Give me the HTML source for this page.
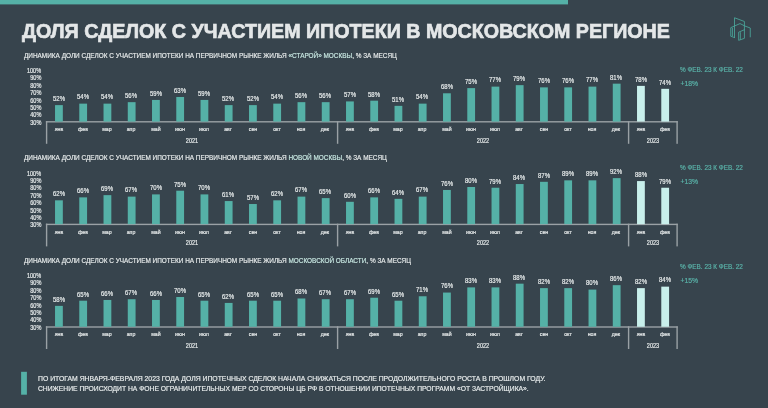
<!DOCTYPE html>
<html><head><meta charset="utf-8">
<style>
html,body{margin:0;padding:0;}
body{width:768px;height:408px;overflow:hidden;background:#37444d;position:relative;font-family:"Liberation Sans",sans-serif;}
.a{position:absolute;white-space:nowrap;line-height:1;-webkit-text-stroke:0.18px currentColor;}
.bar{position:absolute;}
.ln{position:absolute;background:#9aa1a5;}
.c{transform:translateX(-50%);}
</style></head><body><div id="w" style="position:absolute;left:0;top:0;width:768px;height:408px;will-change:transform;">

<div class="a" id="title" style="left:21.7px;top:21.2px;font-size:20.9px;font-weight:bold;color:#e4e7e8;transform-origin:0 0;transform:scaleX(0.941);-webkit-text-stroke:0.7px #e4e7e8;">ДОЛЯ СДЕЛОК С УЧАСТИЕМ ИПОТЕКИ В МОСКОВСКОМ РЕГИОНЕ</div>
<svg style="position:absolute;left:724px;top:12px" width="32" height="34" viewBox="0 0 384 408">
<g fill="none" stroke="#4caa9e" stroke-width="10" stroke-linejoin="round" stroke-linecap="round">
<path d="M126 307 V69 L245 114 V316 L176 340 V242 L245 213"/>
<path d="M126 307 L81 291 V188 L126 168 L192 139 L250 168 L315 192 V299"/>
<path d="M101 287 V194"/>
<path d="M196 328 V247"/>
</g></svg>
<div class="a" id="sub0" style="left:24.20px;top:51.80px;font-size:7.80px;color:#e9eded;transform-origin:0 0;transform:scaleX(0.823);">ДИНАМИКА ДОЛИ СДЕЛОК С УЧАСТИЕМ ИПОТЕКИ НА ПЕРВИЧНОМ РЫНКЕ ЖИЛЬЯ <span style="color:#c9e9e3">«СТАРОЙ» МОСКВЫ</span>, % ЗА МЕСЯЦ</div>
<div class="a" style="right:726.90px;top:119.65px;font-size:6.70px;color:#e9eded;transform-origin:100% 0;transform:scaleX(0.83);">30%</div>
<div class="a" style="right:726.90px;top:112.27px;font-size:6.70px;color:#e9eded;transform-origin:100% 0;transform:scaleX(0.83);">40%</div>
<div class="a" style="right:726.90px;top:104.89px;font-size:6.70px;color:#e9eded;transform-origin:100% 0;transform:scaleX(0.83);">50%</div>
<div class="a" style="right:726.90px;top:97.51px;font-size:6.70px;color:#e9eded;transform-origin:100% 0;transform:scaleX(0.83);">60%</div>
<div class="a" style="right:726.90px;top:90.13px;font-size:6.70px;color:#e9eded;transform-origin:100% 0;transform:scaleX(0.83);">70%</div>
<div class="a" style="right:726.90px;top:82.75px;font-size:6.70px;color:#e9eded;transform-origin:100% 0;transform:scaleX(0.83);">80%</div>
<div class="a" style="right:726.90px;top:75.37px;font-size:6.70px;color:#e9eded;transform-origin:100% 0;transform:scaleX(0.83);">90%</div>
<div class="a" style="right:726.90px;top:67.99px;font-size:6.70px;color:#e9eded;transform-origin:100% 0;transform:scaleX(0.83);">100%</div>
<div class="a c" style="left:58.73px;top:95.96px;font-size:6.80px;color:#e9eded;transform:translateX(-50%) scaleX(0.88);">52%</div>
<div class="a c" style="left:58.73px;top:125.82px;font-size:6.00px;color:#e9eded;transform:translateX(-50%) scaleX(0.88);">янв</div>
<div class="a c" style="left:82.97px;top:94.48px;font-size:6.80px;color:#e9eded;transform:translateX(-50%) scaleX(0.88);">54%</div>
<div class="a c" style="left:82.97px;top:125.82px;font-size:6.00px;color:#e9eded;transform:translateX(-50%) scaleX(0.88);">фев</div>
<div class="a c" style="left:107.22px;top:94.48px;font-size:6.80px;color:#e9eded;transform:translateX(-50%) scaleX(0.88);">54%</div>
<div class="a c" style="left:107.22px;top:125.82px;font-size:6.00px;color:#e9eded;transform:translateX(-50%) scaleX(0.88);">мар</div>
<div class="a c" style="left:131.47px;top:93.00px;font-size:6.80px;color:#e9eded;transform:translateX(-50%) scaleX(0.88);">56%</div>
<div class="a c" style="left:131.47px;top:125.82px;font-size:6.00px;color:#e9eded;transform:translateX(-50%) scaleX(0.88);">апр</div>
<div class="a c" style="left:155.72px;top:90.78px;font-size:6.80px;color:#e9eded;transform:translateX(-50%) scaleX(0.88);">59%</div>
<div class="a c" style="left:155.72px;top:125.82px;font-size:6.00px;color:#e9eded;transform:translateX(-50%) scaleX(0.88);">май</div>
<div class="a c" style="left:179.97px;top:87.82px;font-size:6.80px;color:#e9eded;transform:translateX(-50%) scaleX(0.88);">63%</div>
<div class="a c" style="left:179.97px;top:125.82px;font-size:6.00px;color:#e9eded;transform:translateX(-50%) scaleX(0.88);">июн</div>
<div class="a c" style="left:204.22px;top:90.78px;font-size:6.80px;color:#e9eded;transform:translateX(-50%) scaleX(0.88);">59%</div>
<div class="a c" style="left:204.22px;top:125.82px;font-size:6.00px;color:#e9eded;transform:translateX(-50%) scaleX(0.88);">июл</div>
<div class="a c" style="left:228.47px;top:95.96px;font-size:6.80px;color:#e9eded;transform:translateX(-50%) scaleX(0.88);">52%</div>
<div class="a c" style="left:228.47px;top:125.82px;font-size:6.00px;color:#e9eded;transform:translateX(-50%) scaleX(0.88);">авг</div>
<div class="a c" style="left:252.72px;top:95.96px;font-size:6.80px;color:#e9eded;transform:translateX(-50%) scaleX(0.88);">52%</div>
<div class="a c" style="left:252.72px;top:125.82px;font-size:6.00px;color:#e9eded;transform:translateX(-50%) scaleX(0.88);">сен</div>
<div class="a c" style="left:276.98px;top:94.48px;font-size:6.80px;color:#e9eded;transform:translateX(-50%) scaleX(0.88);">54%</div>
<div class="a c" style="left:276.98px;top:125.82px;font-size:6.00px;color:#e9eded;transform:translateX(-50%) scaleX(0.88);">окт</div>
<div class="a c" style="left:301.23px;top:93.00px;font-size:6.80px;color:#e9eded;transform:translateX(-50%) scaleX(0.88);">56%</div>
<div class="a c" style="left:301.23px;top:125.82px;font-size:6.00px;color:#e9eded;transform:translateX(-50%) scaleX(0.88);">ноя</div>
<div class="a c" style="left:325.48px;top:93.00px;font-size:6.80px;color:#e9eded;transform:translateX(-50%) scaleX(0.88);">56%</div>
<div class="a c" style="left:325.48px;top:125.82px;font-size:6.00px;color:#e9eded;transform:translateX(-50%) scaleX(0.88);">дек</div>
<div class="a c" style="left:349.73px;top:92.26px;font-size:6.80px;color:#e9eded;transform:translateX(-50%) scaleX(0.88);">57%</div>
<div class="a c" style="left:349.73px;top:125.82px;font-size:6.00px;color:#e9eded;transform:translateX(-50%) scaleX(0.88);">янв</div>
<div class="a c" style="left:373.98px;top:91.52px;font-size:6.80px;color:#e9eded;transform:translateX(-50%) scaleX(0.88);">58%</div>
<div class="a c" style="left:373.98px;top:125.82px;font-size:6.00px;color:#e9eded;transform:translateX(-50%) scaleX(0.88);">фев</div>
<div class="a c" style="left:398.23px;top:96.70px;font-size:6.80px;color:#e9eded;transform:translateX(-50%) scaleX(0.88);">51%</div>
<div class="a c" style="left:398.23px;top:125.82px;font-size:6.00px;color:#e9eded;transform:translateX(-50%) scaleX(0.88);">мар</div>
<div class="a c" style="left:422.48px;top:94.48px;font-size:6.80px;color:#e9eded;transform:translateX(-50%) scaleX(0.88);">54%</div>
<div class="a c" style="left:422.48px;top:125.82px;font-size:6.00px;color:#e9eded;transform:translateX(-50%) scaleX(0.88);">апр</div>
<div class="a c" style="left:446.73px;top:84.12px;font-size:6.80px;color:#e9eded;transform:translateX(-50%) scaleX(0.88);">68%</div>
<div class="a c" style="left:446.73px;top:125.82px;font-size:6.00px;color:#e9eded;transform:translateX(-50%) scaleX(0.88);">май</div>
<div class="a c" style="left:470.98px;top:78.94px;font-size:6.80px;color:#e9eded;transform:translateX(-50%) scaleX(0.88);">75%</div>
<div class="a c" style="left:470.98px;top:125.82px;font-size:6.00px;color:#e9eded;transform:translateX(-50%) scaleX(0.88);">июн</div>
<div class="a c" style="left:495.23px;top:77.46px;font-size:6.80px;color:#e9eded;transform:translateX(-50%) scaleX(0.88);">77%</div>
<div class="a c" style="left:495.23px;top:125.82px;font-size:6.00px;color:#e9eded;transform:translateX(-50%) scaleX(0.88);">июл</div>
<div class="a c" style="left:519.48px;top:75.98px;font-size:6.80px;color:#e9eded;transform:translateX(-50%) scaleX(0.88);">79%</div>
<div class="a c" style="left:519.48px;top:125.82px;font-size:6.00px;color:#e9eded;transform:translateX(-50%) scaleX(0.88);">авг</div>
<div class="a c" style="left:543.73px;top:78.20px;font-size:6.80px;color:#e9eded;transform:translateX(-50%) scaleX(0.88);">76%</div>
<div class="a c" style="left:543.73px;top:125.82px;font-size:6.00px;color:#e9eded;transform:translateX(-50%) scaleX(0.88);">сен</div>
<div class="a c" style="left:567.98px;top:78.20px;font-size:6.80px;color:#e9eded;transform:translateX(-50%) scaleX(0.88);">76%</div>
<div class="a c" style="left:567.98px;top:125.82px;font-size:6.00px;color:#e9eded;transform:translateX(-50%) scaleX(0.88);">окт</div>
<div class="a c" style="left:592.23px;top:77.46px;font-size:6.80px;color:#e9eded;transform:translateX(-50%) scaleX(0.88);">77%</div>
<div class="a c" style="left:592.23px;top:125.82px;font-size:6.00px;color:#e9eded;transform:translateX(-50%) scaleX(0.88);">ноя</div>
<div class="a c" style="left:616.48px;top:74.50px;font-size:6.80px;color:#e9eded;transform:translateX(-50%) scaleX(0.88);">81%</div>
<div class="a c" style="left:616.48px;top:125.82px;font-size:6.00px;color:#e9eded;transform:translateX(-50%) scaleX(0.88);">дек</div>
<div class="a c" style="left:640.73px;top:76.72px;font-size:6.80px;color:#e9eded;transform:translateX(-50%) scaleX(0.88);">78%</div>
<div class="a c" style="left:640.73px;top:125.82px;font-size:6.00px;color:#e9eded;transform:translateX(-50%) scaleX(0.88);">янв</div>
<div class="a c" style="left:664.98px;top:79.68px;font-size:6.80px;color:#e9eded;transform:translateX(-50%) scaleX(0.88);">74%</div>
<div class="a c" style="left:664.98px;top:125.82px;font-size:6.00px;color:#e9eded;transform:translateX(-50%) scaleX(0.88);">фев</div>
<div class="a c" style="left:192.10px;top:138.04px;font-size:6.80px;color:#e9eded;transform:translateX(-50%) scaleX(0.81);">2021</div>
<div class="a c" style="left:483.10px;top:138.04px;font-size:6.80px;color:#e9eded;transform:translateX(-50%) scaleX(0.81);">2022</div>
<div class="a c" style="left:652.85px;top:138.04px;font-size:6.80px;color:#e9eded;transform:translateX(-50%) scaleX(0.81);">2023</div>
<div class="a" id="r0" style="left:680.20px;top:66.61px;font-size:6.60px;color:#5ab3a9;transform-origin:0 0;transform:scaleX(0.97);">% ФЕВ. 23 К ФЕВ. 22</div>
<div class="a" style="left:680.50px;top:80.64px;font-size:6.80px;color:#5ab3a9;">+18%</div>
<div class="a" id="sub1" style="left:24.20px;top:154.40px;font-size:7.80px;color:#e9eded;transform-origin:0 0;transform:scaleX(0.823);">ДИНАМИКА ДОЛИ СДЕЛОК С УЧАСТИЕМ ИПОТЕКИ НА ПЕРВИЧНОМ РЫНКЕ ЖИЛЬЯ <span style="color:#c9e9e3">НОВОЙ МОСКВЫ</span>, % ЗА МЕСЯЦ</div>
<div class="a" style="right:726.90px;top:222.35px;font-size:6.70px;color:#e9eded;transform-origin:100% 0;transform:scaleX(0.83);">30%</div>
<div class="a" style="right:726.90px;top:214.97px;font-size:6.70px;color:#e9eded;transform-origin:100% 0;transform:scaleX(0.83);">40%</div>
<div class="a" style="right:726.90px;top:207.59px;font-size:6.70px;color:#e9eded;transform-origin:100% 0;transform:scaleX(0.83);">50%</div>
<div class="a" style="right:726.90px;top:200.21px;font-size:6.70px;color:#e9eded;transform-origin:100% 0;transform:scaleX(0.83);">60%</div>
<div class="a" style="right:726.90px;top:192.83px;font-size:6.70px;color:#e9eded;transform-origin:100% 0;transform:scaleX(0.83);">70%</div>
<div class="a" style="right:726.90px;top:185.45px;font-size:6.70px;color:#e9eded;transform-origin:100% 0;transform:scaleX(0.83);">80%</div>
<div class="a" style="right:726.90px;top:178.07px;font-size:6.70px;color:#e9eded;transform-origin:100% 0;transform:scaleX(0.83);">90%</div>
<div class="a" style="right:726.90px;top:170.69px;font-size:6.70px;color:#e9eded;transform-origin:100% 0;transform:scaleX(0.83);">100%</div>
<div class="a c" style="left:58.73px;top:191.16px;font-size:6.80px;color:#e9eded;transform:translateX(-50%) scaleX(0.88);">62%</div>
<div class="a c" style="left:58.73px;top:229.42px;font-size:6.00px;color:#e9eded;transform:translateX(-50%) scaleX(0.88);">янв</div>
<div class="a c" style="left:82.97px;top:188.20px;font-size:6.80px;color:#e9eded;transform:translateX(-50%) scaleX(0.88);">66%</div>
<div class="a c" style="left:82.97px;top:229.42px;font-size:6.00px;color:#e9eded;transform:translateX(-50%) scaleX(0.88);">фев</div>
<div class="a c" style="left:107.22px;top:185.98px;font-size:6.80px;color:#e9eded;transform:translateX(-50%) scaleX(0.88);">69%</div>
<div class="a c" style="left:107.22px;top:229.42px;font-size:6.00px;color:#e9eded;transform:translateX(-50%) scaleX(0.88);">мар</div>
<div class="a c" style="left:131.47px;top:187.46px;font-size:6.80px;color:#e9eded;transform:translateX(-50%) scaleX(0.88);">67%</div>
<div class="a c" style="left:131.47px;top:229.42px;font-size:6.00px;color:#e9eded;transform:translateX(-50%) scaleX(0.88);">апр</div>
<div class="a c" style="left:155.72px;top:185.24px;font-size:6.80px;color:#e9eded;transform:translateX(-50%) scaleX(0.88);">70%</div>
<div class="a c" style="left:155.72px;top:229.42px;font-size:6.00px;color:#e9eded;transform:translateX(-50%) scaleX(0.88);">май</div>
<div class="a c" style="left:179.97px;top:181.54px;font-size:6.80px;color:#e9eded;transform:translateX(-50%) scaleX(0.88);">75%</div>
<div class="a c" style="left:179.97px;top:229.42px;font-size:6.00px;color:#e9eded;transform:translateX(-50%) scaleX(0.88);">июн</div>
<div class="a c" style="left:204.22px;top:185.24px;font-size:6.80px;color:#e9eded;transform:translateX(-50%) scaleX(0.88);">70%</div>
<div class="a c" style="left:204.22px;top:229.42px;font-size:6.00px;color:#e9eded;transform:translateX(-50%) scaleX(0.88);">июл</div>
<div class="a c" style="left:228.47px;top:191.90px;font-size:6.80px;color:#e9eded;transform:translateX(-50%) scaleX(0.88);">61%</div>
<div class="a c" style="left:228.47px;top:229.42px;font-size:6.00px;color:#e9eded;transform:translateX(-50%) scaleX(0.88);">авг</div>
<div class="a c" style="left:252.72px;top:194.86px;font-size:6.80px;color:#e9eded;transform:translateX(-50%) scaleX(0.88);">57%</div>
<div class="a c" style="left:252.72px;top:229.42px;font-size:6.00px;color:#e9eded;transform:translateX(-50%) scaleX(0.88);">сен</div>
<div class="a c" style="left:276.98px;top:191.16px;font-size:6.80px;color:#e9eded;transform:translateX(-50%) scaleX(0.88);">62%</div>
<div class="a c" style="left:276.98px;top:229.42px;font-size:6.00px;color:#e9eded;transform:translateX(-50%) scaleX(0.88);">окт</div>
<div class="a c" style="left:301.23px;top:187.46px;font-size:6.80px;color:#e9eded;transform:translateX(-50%) scaleX(0.88);">67%</div>
<div class="a c" style="left:301.23px;top:229.42px;font-size:6.00px;color:#e9eded;transform:translateX(-50%) scaleX(0.88);">ноя</div>
<div class="a c" style="left:325.48px;top:188.94px;font-size:6.80px;color:#e9eded;transform:translateX(-50%) scaleX(0.88);">65%</div>
<div class="a c" style="left:325.48px;top:229.42px;font-size:6.00px;color:#e9eded;transform:translateX(-50%) scaleX(0.88);">дек</div>
<div class="a c" style="left:349.73px;top:192.64px;font-size:6.80px;color:#e9eded;transform:translateX(-50%) scaleX(0.88);">60%</div>
<div class="a c" style="left:349.73px;top:229.42px;font-size:6.00px;color:#e9eded;transform:translateX(-50%) scaleX(0.88);">янв</div>
<div class="a c" style="left:373.98px;top:188.20px;font-size:6.80px;color:#e9eded;transform:translateX(-50%) scaleX(0.88);">66%</div>
<div class="a c" style="left:373.98px;top:229.42px;font-size:6.00px;color:#e9eded;transform:translateX(-50%) scaleX(0.88);">фев</div>
<div class="a c" style="left:398.23px;top:189.68px;font-size:6.80px;color:#e9eded;transform:translateX(-50%) scaleX(0.88);">64%</div>
<div class="a c" style="left:398.23px;top:229.42px;font-size:6.00px;color:#e9eded;transform:translateX(-50%) scaleX(0.88);">мар</div>
<div class="a c" style="left:422.48px;top:187.46px;font-size:6.80px;color:#e9eded;transform:translateX(-50%) scaleX(0.88);">67%</div>
<div class="a c" style="left:422.48px;top:229.42px;font-size:6.00px;color:#e9eded;transform:translateX(-50%) scaleX(0.88);">апр</div>
<div class="a c" style="left:446.73px;top:180.80px;font-size:6.80px;color:#e9eded;transform:translateX(-50%) scaleX(0.88);">76%</div>
<div class="a c" style="left:446.73px;top:229.42px;font-size:6.00px;color:#e9eded;transform:translateX(-50%) scaleX(0.88);">май</div>
<div class="a c" style="left:470.98px;top:177.84px;font-size:6.80px;color:#e9eded;transform:translateX(-50%) scaleX(0.88);">80%</div>
<div class="a c" style="left:470.98px;top:229.42px;font-size:6.00px;color:#e9eded;transform:translateX(-50%) scaleX(0.88);">июн</div>
<div class="a c" style="left:495.23px;top:178.58px;font-size:6.80px;color:#e9eded;transform:translateX(-50%) scaleX(0.88);">79%</div>
<div class="a c" style="left:495.23px;top:229.42px;font-size:6.00px;color:#e9eded;transform:translateX(-50%) scaleX(0.88);">июл</div>
<div class="a c" style="left:519.48px;top:174.88px;font-size:6.80px;color:#e9eded;transform:translateX(-50%) scaleX(0.88);">84%</div>
<div class="a c" style="left:519.48px;top:229.42px;font-size:6.00px;color:#e9eded;transform:translateX(-50%) scaleX(0.88);">авг</div>
<div class="a c" style="left:543.73px;top:172.66px;font-size:6.80px;color:#e9eded;transform:translateX(-50%) scaleX(0.88);">87%</div>
<div class="a c" style="left:543.73px;top:229.42px;font-size:6.00px;color:#e9eded;transform:translateX(-50%) scaleX(0.88);">сен</div>
<div class="a c" style="left:567.98px;top:171.18px;font-size:6.80px;color:#e9eded;transform:translateX(-50%) scaleX(0.88);">89%</div>
<div class="a c" style="left:567.98px;top:229.42px;font-size:6.00px;color:#e9eded;transform:translateX(-50%) scaleX(0.88);">окт</div>
<div class="a c" style="left:592.23px;top:171.18px;font-size:6.80px;color:#e9eded;transform:translateX(-50%) scaleX(0.88);">89%</div>
<div class="a c" style="left:592.23px;top:229.42px;font-size:6.00px;color:#e9eded;transform:translateX(-50%) scaleX(0.88);">ноя</div>
<div class="a c" style="left:616.48px;top:168.96px;font-size:6.80px;color:#e9eded;transform:translateX(-50%) scaleX(0.88);">92%</div>
<div class="a c" style="left:616.48px;top:229.42px;font-size:6.00px;color:#e9eded;transform:translateX(-50%) scaleX(0.88);">дек</div>
<div class="a c" style="left:640.73px;top:171.92px;font-size:6.80px;color:#e9eded;transform:translateX(-50%) scaleX(0.88);">88%</div>
<div class="a c" style="left:640.73px;top:229.42px;font-size:6.00px;color:#e9eded;transform:translateX(-50%) scaleX(0.88);">янв</div>
<div class="a c" style="left:664.98px;top:178.58px;font-size:6.80px;color:#e9eded;transform:translateX(-50%) scaleX(0.88);">79%</div>
<div class="a c" style="left:664.98px;top:229.42px;font-size:6.00px;color:#e9eded;transform:translateX(-50%) scaleX(0.88);">фев</div>
<div class="a c" style="left:192.10px;top:239.64px;font-size:6.80px;color:#e9eded;transform:translateX(-50%) scaleX(0.81);">2021</div>
<div class="a c" style="left:483.10px;top:239.64px;font-size:6.80px;color:#e9eded;transform:translateX(-50%) scaleX(0.81);">2022</div>
<div class="a c" style="left:652.85px;top:239.64px;font-size:6.80px;color:#e9eded;transform:translateX(-50%) scaleX(0.81);">2023</div>
<div class="a" id="r1" style="left:680.20px;top:164.51px;font-size:6.60px;color:#5ab3a9;transform-origin:0 0;transform:scaleX(0.97);">% ФЕВ. 23 К ФЕВ. 22</div>
<div class="a" style="left:680.50px;top:178.54px;font-size:6.80px;color:#5ab3a9;">+13%</div>
<div class="a" id="sub2" style="left:24.20px;top:257.00px;font-size:7.80px;color:#e9eded;transform-origin:0 0;transform:scaleX(0.823);">ДИНАМИКА ДОЛИ СДЕЛОК С УЧАСТИЕМ ИПОТЕКИ НА ПЕРВИЧНОМ РЫНКЕ ЖИЛЬЯ <span style="color:#c9e9e3">МОСКОВСКОЙ ОБЛАСТИ</span>, % ЗА МЕСЯЦ</div>
<div class="a" style="right:726.90px;top:324.75px;font-size:6.70px;color:#e9eded;transform-origin:100% 0;transform:scaleX(0.83);">30%</div>
<div class="a" style="right:726.90px;top:317.37px;font-size:6.70px;color:#e9eded;transform-origin:100% 0;transform:scaleX(0.83);">40%</div>
<div class="a" style="right:726.90px;top:309.99px;font-size:6.70px;color:#e9eded;transform-origin:100% 0;transform:scaleX(0.83);">50%</div>
<div class="a" style="right:726.90px;top:302.61px;font-size:6.70px;color:#e9eded;transform-origin:100% 0;transform:scaleX(0.83);">60%</div>
<div class="a" style="right:726.90px;top:295.23px;font-size:6.70px;color:#e9eded;transform-origin:100% 0;transform:scaleX(0.83);">70%</div>
<div class="a" style="right:726.90px;top:287.85px;font-size:6.70px;color:#e9eded;transform-origin:100% 0;transform:scaleX(0.83);">80%</div>
<div class="a" style="right:726.90px;top:280.47px;font-size:6.70px;color:#e9eded;transform-origin:100% 0;transform:scaleX(0.83);">90%</div>
<div class="a" style="right:726.90px;top:273.09px;font-size:6.70px;color:#e9eded;transform-origin:100% 0;transform:scaleX(0.83);">100%</div>
<div class="a c" style="left:58.73px;top:296.72px;font-size:6.80px;color:#e9eded;transform:translateX(-50%) scaleX(0.88);">58%</div>
<div class="a c" style="left:58.73px;top:331.02px;font-size:6.00px;color:#e9eded;transform:translateX(-50%) scaleX(0.88);">янв</div>
<div class="a c" style="left:82.97px;top:291.54px;font-size:6.80px;color:#e9eded;transform:translateX(-50%) scaleX(0.88);">65%</div>
<div class="a c" style="left:82.97px;top:331.02px;font-size:6.00px;color:#e9eded;transform:translateX(-50%) scaleX(0.88);">фев</div>
<div class="a c" style="left:107.22px;top:290.80px;font-size:6.80px;color:#e9eded;transform:translateX(-50%) scaleX(0.88);">66%</div>
<div class="a c" style="left:107.22px;top:331.02px;font-size:6.00px;color:#e9eded;transform:translateX(-50%) scaleX(0.88);">мар</div>
<div class="a c" style="left:131.47px;top:290.06px;font-size:6.80px;color:#e9eded;transform:translateX(-50%) scaleX(0.88);">67%</div>
<div class="a c" style="left:131.47px;top:331.02px;font-size:6.00px;color:#e9eded;transform:translateX(-50%) scaleX(0.88);">апр</div>
<div class="a c" style="left:155.72px;top:290.80px;font-size:6.80px;color:#e9eded;transform:translateX(-50%) scaleX(0.88);">66%</div>
<div class="a c" style="left:155.72px;top:331.02px;font-size:6.00px;color:#e9eded;transform:translateX(-50%) scaleX(0.88);">май</div>
<div class="a c" style="left:179.97px;top:287.84px;font-size:6.80px;color:#e9eded;transform:translateX(-50%) scaleX(0.88);">70%</div>
<div class="a c" style="left:179.97px;top:331.02px;font-size:6.00px;color:#e9eded;transform:translateX(-50%) scaleX(0.88);">июн</div>
<div class="a c" style="left:204.22px;top:291.54px;font-size:6.80px;color:#e9eded;transform:translateX(-50%) scaleX(0.88);">65%</div>
<div class="a c" style="left:204.22px;top:331.02px;font-size:6.00px;color:#e9eded;transform:translateX(-50%) scaleX(0.88);">июл</div>
<div class="a c" style="left:228.47px;top:293.76px;font-size:6.80px;color:#e9eded;transform:translateX(-50%) scaleX(0.88);">62%</div>
<div class="a c" style="left:228.47px;top:331.02px;font-size:6.00px;color:#e9eded;transform:translateX(-50%) scaleX(0.88);">авг</div>
<div class="a c" style="left:252.72px;top:291.54px;font-size:6.80px;color:#e9eded;transform:translateX(-50%) scaleX(0.88);">65%</div>
<div class="a c" style="left:252.72px;top:331.02px;font-size:6.00px;color:#e9eded;transform:translateX(-50%) scaleX(0.88);">сен</div>
<div class="a c" style="left:276.98px;top:291.54px;font-size:6.80px;color:#e9eded;transform:translateX(-50%) scaleX(0.88);">65%</div>
<div class="a c" style="left:276.98px;top:331.02px;font-size:6.00px;color:#e9eded;transform:translateX(-50%) scaleX(0.88);">окт</div>
<div class="a c" style="left:301.23px;top:289.32px;font-size:6.80px;color:#e9eded;transform:translateX(-50%) scaleX(0.88);">68%</div>
<div class="a c" style="left:301.23px;top:331.02px;font-size:6.00px;color:#e9eded;transform:translateX(-50%) scaleX(0.88);">ноя</div>
<div class="a c" style="left:325.48px;top:290.06px;font-size:6.80px;color:#e9eded;transform:translateX(-50%) scaleX(0.88);">67%</div>
<div class="a c" style="left:325.48px;top:331.02px;font-size:6.00px;color:#e9eded;transform:translateX(-50%) scaleX(0.88);">дек</div>
<div class="a c" style="left:349.73px;top:290.06px;font-size:6.80px;color:#e9eded;transform:translateX(-50%) scaleX(0.88);">67%</div>
<div class="a c" style="left:349.73px;top:331.02px;font-size:6.00px;color:#e9eded;transform:translateX(-50%) scaleX(0.88);">янв</div>
<div class="a c" style="left:373.98px;top:288.58px;font-size:6.80px;color:#e9eded;transform:translateX(-50%) scaleX(0.88);">69%</div>
<div class="a c" style="left:373.98px;top:331.02px;font-size:6.00px;color:#e9eded;transform:translateX(-50%) scaleX(0.88);">фев</div>
<div class="a c" style="left:398.23px;top:291.54px;font-size:6.80px;color:#e9eded;transform:translateX(-50%) scaleX(0.88);">65%</div>
<div class="a c" style="left:398.23px;top:331.02px;font-size:6.00px;color:#e9eded;transform:translateX(-50%) scaleX(0.88);">мар</div>
<div class="a c" style="left:422.48px;top:287.10px;font-size:6.80px;color:#e9eded;transform:translateX(-50%) scaleX(0.88);">71%</div>
<div class="a c" style="left:422.48px;top:331.02px;font-size:6.00px;color:#e9eded;transform:translateX(-50%) scaleX(0.88);">апр</div>
<div class="a c" style="left:446.73px;top:283.40px;font-size:6.80px;color:#e9eded;transform:translateX(-50%) scaleX(0.88);">76%</div>
<div class="a c" style="left:446.73px;top:331.02px;font-size:6.00px;color:#e9eded;transform:translateX(-50%) scaleX(0.88);">май</div>
<div class="a c" style="left:470.98px;top:278.22px;font-size:6.80px;color:#e9eded;transform:translateX(-50%) scaleX(0.88);">83%</div>
<div class="a c" style="left:470.98px;top:331.02px;font-size:6.00px;color:#e9eded;transform:translateX(-50%) scaleX(0.88);">июн</div>
<div class="a c" style="left:495.23px;top:278.22px;font-size:6.80px;color:#e9eded;transform:translateX(-50%) scaleX(0.88);">83%</div>
<div class="a c" style="left:495.23px;top:331.02px;font-size:6.00px;color:#e9eded;transform:translateX(-50%) scaleX(0.88);">июл</div>
<div class="a c" style="left:519.48px;top:274.52px;font-size:6.80px;color:#e9eded;transform:translateX(-50%) scaleX(0.88);">88%</div>
<div class="a c" style="left:519.48px;top:331.02px;font-size:6.00px;color:#e9eded;transform:translateX(-50%) scaleX(0.88);">авг</div>
<div class="a c" style="left:543.73px;top:278.96px;font-size:6.80px;color:#e9eded;transform:translateX(-50%) scaleX(0.88);">82%</div>
<div class="a c" style="left:543.73px;top:331.02px;font-size:6.00px;color:#e9eded;transform:translateX(-50%) scaleX(0.88);">сен</div>
<div class="a c" style="left:567.98px;top:278.96px;font-size:6.80px;color:#e9eded;transform:translateX(-50%) scaleX(0.88);">82%</div>
<div class="a c" style="left:567.98px;top:331.02px;font-size:6.00px;color:#e9eded;transform:translateX(-50%) scaleX(0.88);">окт</div>
<div class="a c" style="left:592.23px;top:280.44px;font-size:6.80px;color:#e9eded;transform:translateX(-50%) scaleX(0.88);">80%</div>
<div class="a c" style="left:592.23px;top:331.02px;font-size:6.00px;color:#e9eded;transform:translateX(-50%) scaleX(0.88);">ноя</div>
<div class="a c" style="left:616.48px;top:276.00px;font-size:6.80px;color:#e9eded;transform:translateX(-50%) scaleX(0.88);">86%</div>
<div class="a c" style="left:616.48px;top:331.02px;font-size:6.00px;color:#e9eded;transform:translateX(-50%) scaleX(0.88);">дек</div>
<div class="a c" style="left:640.73px;top:278.96px;font-size:6.80px;color:#e9eded;transform:translateX(-50%) scaleX(0.88);">82%</div>
<div class="a c" style="left:640.73px;top:331.02px;font-size:6.00px;color:#e9eded;transform:translateX(-50%) scaleX(0.88);">янв</div>
<div class="a c" style="left:664.98px;top:277.48px;font-size:6.80px;color:#e9eded;transform:translateX(-50%) scaleX(0.88);">84%</div>
<div class="a c" style="left:664.98px;top:331.02px;font-size:6.00px;color:#e9eded;transform:translateX(-50%) scaleX(0.88);">фев</div>
<div class="a c" style="left:192.10px;top:343.24px;font-size:6.80px;color:#e9eded;transform:translateX(-50%) scaleX(0.81);">2021</div>
<div class="a c" style="left:483.10px;top:343.24px;font-size:6.80px;color:#e9eded;transform:translateX(-50%) scaleX(0.81);">2022</div>
<div class="a c" style="left:652.85px;top:343.24px;font-size:6.80px;color:#e9eded;transform:translateX(-50%) scaleX(0.81);">2023</div>
<div class="a" id="r2" style="left:680.20px;top:264.41px;font-size:6.60px;color:#5ab3a9;transform-origin:0 0;transform:scaleX(0.97);">% ФЕВ. 23 К ФЕВ. 22</div>
<div class="a" style="left:680.50px;top:278.44px;font-size:6.80px;color:#5ab3a9;">+15%</div>
<div class="a" id="b1" style="left:37.60px;top:375.21px;font-size:7.20px;color:#e9eded;transform-origin:0 0;transform:scaleX(0.952);">ПО ИТОГАМ ЯНВАРЯ-ФЕВРАЛЯ 2023 ГОДА ДОЛЯ ИПОТЕЧНЫХ СДЕЛОК НАЧАЛА СНИЖАТЬСЯ ПОСЛЕ ПРОДОЛЖИТЕЛЬНОГО РОСТА В ПРОШЛОМ ГОДУ.</div>
<div class="a" id="b2" style="left:37.60px;top:384.91px;font-size:7.20px;color:#e9eded;transform-origin:0 0;transform:scaleX(0.938);">СНИЖЕНИЕ ПРОИСХОДИТ НА ФОНЕ ОГРАНИЧИТЕЛЬНЫХ МЕР СО СТОРОНЫ ЦБ РФ В ОТНОШЕНИИ ИПОТЕЧНЫХ ПРОГРАММ «ОТ ЗАСТРОЙЩИКА».</div>
<svg style="position:absolute;left:0;top:0" width="768" height="408"><rect x="0" y="0" width="568" height="4.4" fill="#55b1a7"/><rect x="45.90" y="121.10" width="631.80" height="1.40" fill="#9aa1a5"/><rect x="45.90" y="121.10" width="1.40" height="22.70" fill="#9aa1a5"/><rect x="336.90" y="121.10" width="1.40" height="22.70" fill="#9aa1a5"/><rect x="627.90" y="121.10" width="1.40" height="22.70" fill="#9aa1a5"/><rect x="676.40" y="121.10" width="1.40" height="22.70" fill="#9aa1a5"/><rect x="55.03" y="105.12" width="7.80" height="16.48" fill="#55b1a7"/><rect x="79.27" y="103.64" width="7.80" height="17.96" fill="#55b1a7"/><rect x="103.52" y="103.64" width="7.80" height="17.96" fill="#55b1a7"/><rect x="127.77" y="102.16" width="7.80" height="19.44" fill="#55b1a7"/><rect x="152.02" y="99.94" width="7.80" height="21.66" fill="#55b1a7"/><rect x="176.27" y="96.98" width="7.80" height="24.62" fill="#55b1a7"/><rect x="200.52" y="99.94" width="7.80" height="21.66" fill="#55b1a7"/><rect x="224.77" y="105.12" width="7.80" height="16.48" fill="#55b1a7"/><rect x="249.02" y="105.12" width="7.80" height="16.48" fill="#55b1a7"/><rect x="273.28" y="103.64" width="7.80" height="17.96" fill="#55b1a7"/><rect x="297.53" y="102.16" width="7.80" height="19.44" fill="#55b1a7"/><rect x="321.78" y="102.16" width="7.80" height="19.44" fill="#55b1a7"/><rect x="346.03" y="101.42" width="7.80" height="20.18" fill="#55b1a7"/><rect x="370.28" y="100.68" width="7.80" height="20.92" fill="#55b1a7"/><rect x="394.53" y="105.86" width="7.80" height="15.74" fill="#55b1a7"/><rect x="418.78" y="103.64" width="7.80" height="17.96" fill="#55b1a7"/><rect x="443.03" y="93.28" width="7.80" height="28.32" fill="#55b1a7"/><rect x="467.28" y="88.10" width="7.80" height="33.50" fill="#55b1a7"/><rect x="491.53" y="86.62" width="7.80" height="34.98" fill="#55b1a7"/><rect x="515.78" y="85.14" width="7.80" height="36.46" fill="#55b1a7"/><rect x="540.03" y="87.36" width="7.80" height="34.24" fill="#55b1a7"/><rect x="564.28" y="87.36" width="7.80" height="34.24" fill="#55b1a7"/><rect x="588.53" y="86.62" width="7.80" height="34.98" fill="#55b1a7"/><rect x="612.78" y="83.66" width="7.80" height="37.94" fill="#55b1a7"/><rect x="637.03" y="85.88" width="7.80" height="35.72" fill="#c8efeb"/><rect x="661.28" y="88.84" width="7.80" height="32.76" fill="#c8efeb"/><rect x="45.90" y="223.70" width="631.80" height="1.40" fill="#9aa1a5"/><rect x="45.90" y="223.70" width="1.40" height="22.70" fill="#9aa1a5"/><rect x="336.90" y="223.70" width="1.40" height="22.70" fill="#9aa1a5"/><rect x="627.90" y="223.70" width="1.40" height="22.70" fill="#9aa1a5"/><rect x="676.40" y="223.70" width="1.40" height="22.70" fill="#9aa1a5"/><rect x="55.03" y="200.32" width="7.80" height="23.88" fill="#55b1a7"/><rect x="79.27" y="197.36" width="7.80" height="26.84" fill="#55b1a7"/><rect x="103.52" y="195.14" width="7.80" height="29.06" fill="#55b1a7"/><rect x="127.77" y="196.62" width="7.80" height="27.58" fill="#55b1a7"/><rect x="152.02" y="194.40" width="7.80" height="29.80" fill="#55b1a7"/><rect x="176.27" y="190.70" width="7.80" height="33.50" fill="#55b1a7"/><rect x="200.52" y="194.40" width="7.80" height="29.80" fill="#55b1a7"/><rect x="224.77" y="201.06" width="7.80" height="23.14" fill="#55b1a7"/><rect x="249.02" y="204.02" width="7.80" height="20.18" fill="#55b1a7"/><rect x="273.28" y="200.32" width="7.80" height="23.88" fill="#55b1a7"/><rect x="297.53" y="196.62" width="7.80" height="27.58" fill="#55b1a7"/><rect x="321.78" y="198.10" width="7.80" height="26.10" fill="#55b1a7"/><rect x="346.03" y="201.80" width="7.80" height="22.40" fill="#55b1a7"/><rect x="370.28" y="197.36" width="7.80" height="26.84" fill="#55b1a7"/><rect x="394.53" y="198.84" width="7.80" height="25.36" fill="#55b1a7"/><rect x="418.78" y="196.62" width="7.80" height="27.58" fill="#55b1a7"/><rect x="443.03" y="189.96" width="7.80" height="34.24" fill="#55b1a7"/><rect x="467.28" y="187.00" width="7.80" height="37.20" fill="#55b1a7"/><rect x="491.53" y="187.74" width="7.80" height="36.46" fill="#55b1a7"/><rect x="515.78" y="184.04" width="7.80" height="40.16" fill="#55b1a7"/><rect x="540.03" y="181.82" width="7.80" height="42.38" fill="#55b1a7"/><rect x="564.28" y="180.34" width="7.80" height="43.86" fill="#55b1a7"/><rect x="588.53" y="180.34" width="7.80" height="43.86" fill="#55b1a7"/><rect x="612.78" y="178.12" width="7.80" height="46.08" fill="#55b1a7"/><rect x="637.03" y="181.08" width="7.80" height="43.12" fill="#c8efeb"/><rect x="661.28" y="187.74" width="7.80" height="36.46" fill="#c8efeb"/><rect x="45.90" y="326.30" width="631.80" height="1.40" fill="#9aa1a5"/><rect x="45.90" y="326.30" width="1.40" height="22.70" fill="#9aa1a5"/><rect x="336.90" y="326.30" width="1.40" height="22.70" fill="#9aa1a5"/><rect x="627.90" y="326.30" width="1.40" height="22.70" fill="#9aa1a5"/><rect x="676.40" y="326.30" width="1.40" height="22.70" fill="#9aa1a5"/><rect x="55.03" y="305.88" width="7.80" height="20.92" fill="#55b1a7"/><rect x="79.27" y="300.70" width="7.80" height="26.10" fill="#55b1a7"/><rect x="103.52" y="299.96" width="7.80" height="26.84" fill="#55b1a7"/><rect x="127.77" y="299.22" width="7.80" height="27.58" fill="#55b1a7"/><rect x="152.02" y="299.96" width="7.80" height="26.84" fill="#55b1a7"/><rect x="176.27" y="297.00" width="7.80" height="29.80" fill="#55b1a7"/><rect x="200.52" y="300.70" width="7.80" height="26.10" fill="#55b1a7"/><rect x="224.77" y="302.92" width="7.80" height="23.88" fill="#55b1a7"/><rect x="249.02" y="300.70" width="7.80" height="26.10" fill="#55b1a7"/><rect x="273.28" y="300.70" width="7.80" height="26.10" fill="#55b1a7"/><rect x="297.53" y="298.48" width="7.80" height="28.32" fill="#55b1a7"/><rect x="321.78" y="299.22" width="7.80" height="27.58" fill="#55b1a7"/><rect x="346.03" y="299.22" width="7.80" height="27.58" fill="#55b1a7"/><rect x="370.28" y="297.74" width="7.80" height="29.06" fill="#55b1a7"/><rect x="394.53" y="300.70" width="7.80" height="26.10" fill="#55b1a7"/><rect x="418.78" y="296.26" width="7.80" height="30.54" fill="#55b1a7"/><rect x="443.03" y="292.56" width="7.80" height="34.24" fill="#55b1a7"/><rect x="467.28" y="287.38" width="7.80" height="39.42" fill="#55b1a7"/><rect x="491.53" y="287.38" width="7.80" height="39.42" fill="#55b1a7"/><rect x="515.78" y="283.68" width="7.80" height="43.12" fill="#55b1a7"/><rect x="540.03" y="288.12" width="7.80" height="38.68" fill="#55b1a7"/><rect x="564.28" y="288.12" width="7.80" height="38.68" fill="#55b1a7"/><rect x="588.53" y="289.60" width="7.80" height="37.20" fill="#55b1a7"/><rect x="612.78" y="285.16" width="7.80" height="41.64" fill="#55b1a7"/><rect x="637.03" y="288.12" width="7.80" height="38.68" fill="#c8efeb"/><rect x="661.28" y="286.64" width="7.80" height="40.16" fill="#c8efeb"/><rect x="21.1" y="371.8" width="5.8" height="22.9" fill="#55b1a7"/></svg>
</div></body></html>
